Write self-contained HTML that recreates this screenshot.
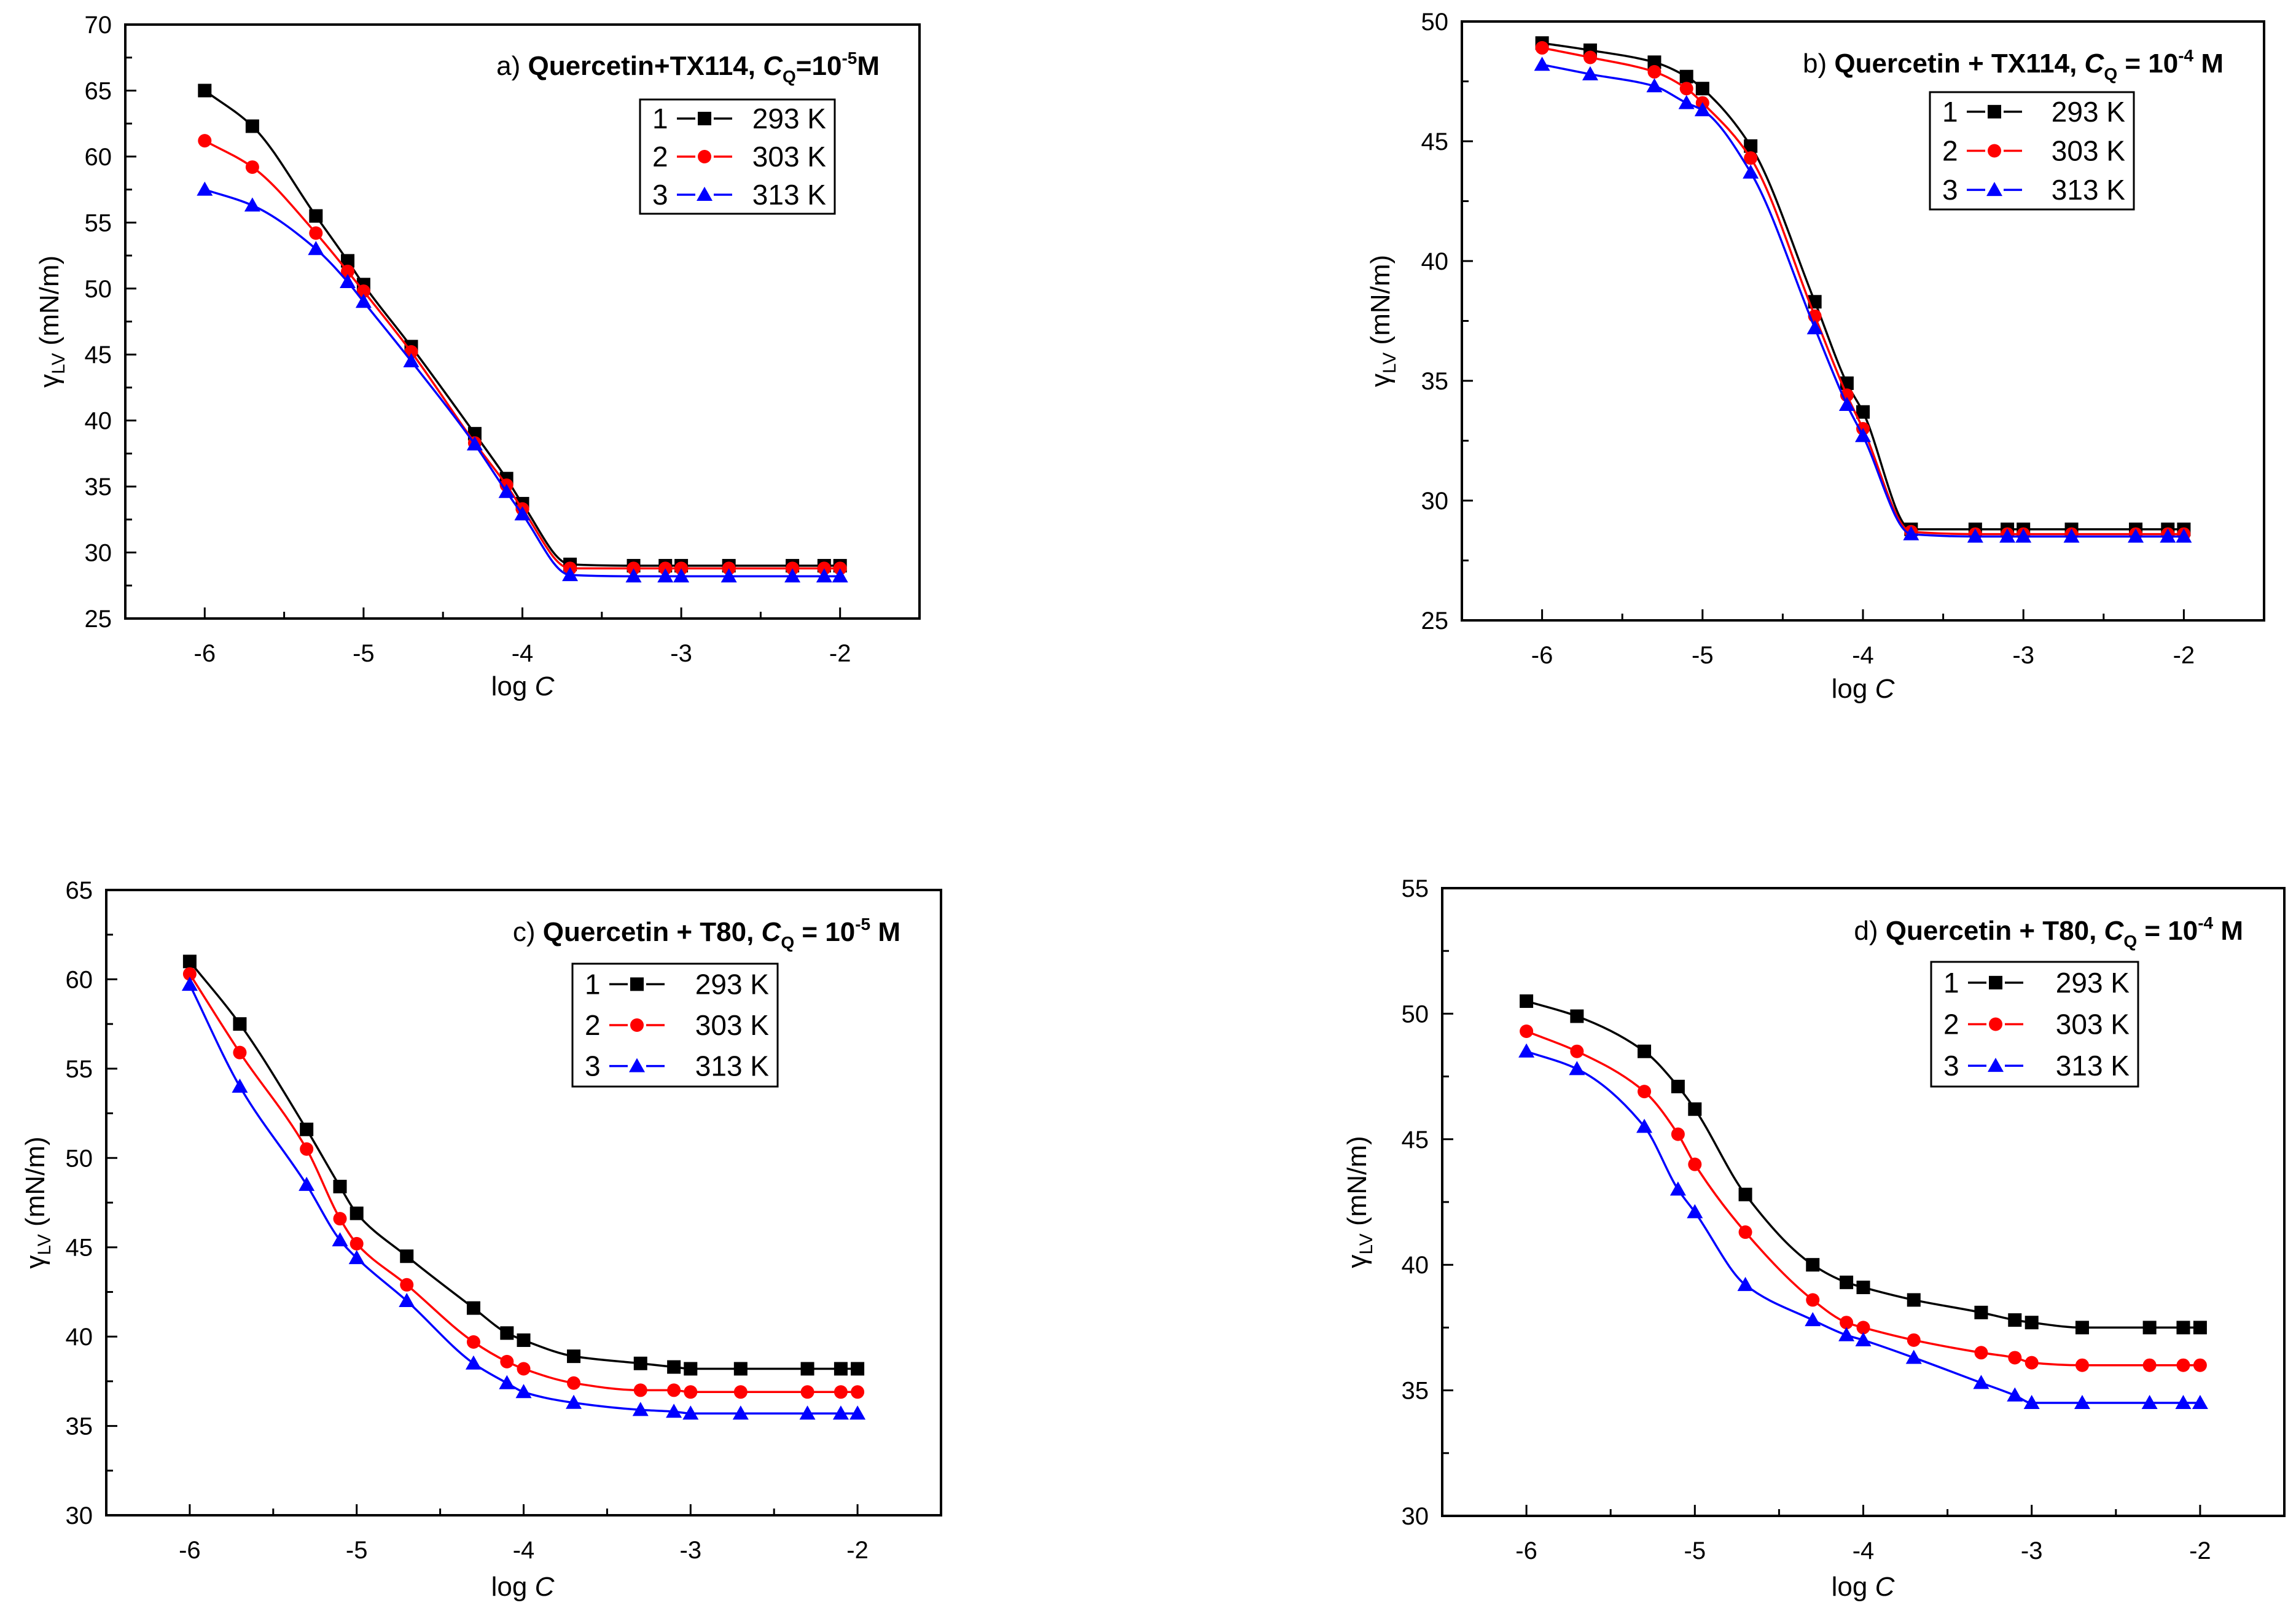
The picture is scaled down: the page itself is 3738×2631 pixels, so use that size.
<!DOCTYPE html>
<html><head><meta charset="utf-8"><style>
html,body{margin:0;padding:0;background:#fff;}
svg{display:block;font-family:"Liberation Sans",Arial,sans-serif;}
</style></head><body>
<svg id="fig" width="3738" height="2631" viewBox="0 0 3738 2631" xmlns="http://www.w3.org/2000/svg"></svg>
<script>
const logC = [-6,-5.7,-5.3,-5.1,-5,-4.7,-4.3,-4.1,-4,-3.7,-3.3,-3.1,-3,-2.7,-2.3,-2.1,-2];
const xTicks = [-6,-5,-4,-3,-2];
const seriesLabels = ["293 K","303 K","313 K"];
const aBlack = [65,62.3,55.5,52.1,50.3,45.6,39,35.6,33.7,29.1,29,29,29,29,29,29,29];
const aRed = [61.2,59.2,54.2,51.3,49.8,45.2,38.3,35.1,33.3,28.8,28.8,28.8,28.8,28.8,28.8,28.8,28.8];
const aBlue = [57.5,56.3,53,50.5,49,44.5,38.2,34.6,32.9,28.3,28.2,28.2,28.2,28.2,28.2,28.2,28.2];
const bBlack = [49.1,48.8,48.3,47.7,47.2,44.8,38.3,34.9,33.7,28.8,28.8,28.8,28.8,28.8,28.8,28.8,28.8];
const bRed = [48.9,48.5,47.9,47.2,46.6,44.3,37.7,34.4,33,28.7,28.6,28.6,28.6,28.6,28.6,28.6,28.6];
const bBlue = [48.2,47.8,47.3,46.6,46.3,43.7,37.2,34.0,32.7,28.6,28.5,28.5,28.5,28.5,28.5,28.5,28.5];
const cBlack = [61,57.5,51.6,48.4,46.9,44.5,41.6,40.2,39.8,38.9,38.5,38.3,38.2,38.2,38.2,38.2,38.2];
const cRed = [60.3,55.9,50.5,46.6,45.2,42.9,39.7,38.6,38.2,37.4,37.0,37.0,36.9,36.9,36.9,36.9,36.9];
const cBlue = [59.7,54,48.5,45.4,44.4,42,38.5,37.4,36.9,36.3,35.9,35.8,35.7,35.7,35.7,35.7,35.7];
const dBlack = [50.5,49.9,48.5,47.1,46.2,42.8,40,39.3,39.1,38.6,38.1,37.8,37.7,37.5,37.5,37.5,37.5];
const dRed = [49.3,48.5,46.9,45.2,44,41.3,38.6,37.7,37.5,37,36.5,36.3,36.1,36,36,36,36];
const dBlue = [48.5,47.8,45.5,43,42.1,39.2,37.8,37.2,37,36.3,35.3,34.8,34.5,34.5,34.5,34.5,34.5];
const aYTicks = [25,30,35,40,45,50,55,60,65,70];
const bYTicks = [25,30,35,40,45,50];
const cYTicks = [30,35,40,45,50,55,60,65];
const dYTicks = [30,35,40,45,50,55];

const NS="http://www.w3.org/2000/svg";
const svg=document.getElementById('fig');
function mk(tag,attrs,parent){const e=document.createElementNS(NS,tag);for(const k in attrs)e.setAttribute(k,attrs[k]);(parent||svg).appendChild(e);return e;}

const panels=[
 {id:'a',L:204,R:1497,T:40,B:1007,yt:aYTicks,data:[aBlack,aRed,aBlue],
  title:['a) ','Quercetin+TX114, ','C','Q','=10','-5','M'],tx:1432,ty:122,
  leg:[1042,162,317,186],ylx:95,xlx:851,xly:1132},
 {id:'b',L:2380,R:3686,T:35,B:1010,yt:bYTicks,data:[bBlack,bRed,bBlue],
  title:['b) ','Quercetin + TX114, ','C','Q',' = 10','-4',' M'],tx:3620,ty:118,
  leg:[3142,150,332,191],ylx:2262,xlx:3033,xly:1136},
 {id:'c',L:173,R:1532,T:1449,B:2467,yt:cYTicks,data:[cBlack,cRed,cBlue],
  title:['c) ','Quercetin + T80, ','C','Q',' = 10','-5',' M'],tx:1466,ty:1532,
  leg:[932,1569,334,200],ylx:72,xlx:851,xly:2598},
 {id:'d',L:2348,R:3719,T:1446,B:2468,yt:dYTicks,data:[dBlack,dRed,dBlue],
  title:['d) ','Quercetin + T80, ','C','Q',' = 10','-4',' M'],tx:3652,ty:1530,
  leg:[3144,1566,337,203],ylx:2224,xlx:3033,xly:2598}
];
const colors=['#000000','#ff0000','#0000ff'];

function marker(g,k,x,y){
  let m;
  if(k===0){m=mk('rect',{x:x-11,y:y-11,width:22,height:22,fill:colors[0]},g);}
  else if(k===1){m=mk('circle',{cx:x,cy:y,r:11,fill:colors[1]},g);}
  else {m=mk('polygon',{points:`${x},${y-13} ${x-13},${y+10} ${x+13},${y+10}`,fill:colors[2]},g);}
  return m;
}
// monotone cubic (Fritsch-Carlson)
function smoothPath(pts){
  const n=pts.length,dx=[],s=[],m=new Array(n);
  for(let i=0;i<n-1;i++){dx[i]=pts[i+1][0]-pts[i][0];s[i]=(pts[i+1][1]-pts[i][1])/dx[i];}
  m[0]=s[0];m[n-1]=s[n-2];
  for(let i=1;i<n-1;i++){
    if(s[i-1]*s[i]<=0)m[i]=0;
    else{const w1=2*dx[i]+dx[i-1],w2=dx[i]+2*dx[i-1];m[i]=(w1+w2)/(w1/s[i-1]+w2/s[i]);}
  }
  let d=`M${pts[0][0]},${pts[0][1]}`;
  for(let i=0;i<n-1;i++){
    const h=dx[i]/3;
    d+=` C${pts[i][0]+h},${pts[i][1]+m[i]*h} ${pts[i+1][0]-h},${pts[i+1][1]-m[i+1]*h} ${pts[i+1][0]},${pts[i+1][1]}`;
  }
  return d;
}

panels.forEach(p=>{
  const g=mk('g',{});
  
  
  const ymin=p.yt[0],ymax=p.yt[p.yt.length-1];
  const sx=v=>p.L+(v+6.5)/5*(p.R-p.L);
  const sy=v=>p.B-(v-ymin)/(ymax-ymin)*(p.B-p.T);
  const frame=mk('rect',{x:p.L,y:p.T,width:p.R-p.L,height:p.B-p.T,fill:'none',stroke:'#000','stroke-width':4},g);
  
  
  for(let v=-6.5;v<=-1.5+1e-9;v+=0.5){
    const major=Math.abs(v-Math.round(v))<1e-9;
    const t=mk('line',{x1:sx(v),x2:sx(v),y1:p.B,y2:p.B-(major?18:11),stroke:'#000','stroke-width':3},g);
    
    
  }
  xTicks.forEach(v=>{
    const t=mk('text',{x:sx(v),y:p.B+70,'font-size':40,'text-anchor':'middle'},g);
    t.textContent=String(v);
    
    
  });
  for(let v=ymin;v<=ymax+1e-9;v+=2.5){
    const major=Math.abs(v%5)<1e-9;
    const t=mk('line',{x1:p.L,x2:p.L+(major?18:11),y1:sy(v),y2:sy(v),stroke:'#000','stroke-width':3},g);
    
    
  }
  p.yt.forEach(v=>{
    const t=mk('text',{x:p.L-22,y:sy(v)+14,'font-size':40,'text-anchor':'end'},g);
    t.textContent=v;
    
    
  });
  const yl=mk('text',{transform:`translate(${p.ylx},${(p.T+p.B)/2}) rotate(-90)`,'font-size':44,'text-anchor':'middle'},g);
  yl.innerHTML='γ<tspan font-size="30" dy="10">LV</tspan><tspan dy="-10"> (mN/m)</tspan>';
  
  
  const xl=mk('text',{x:p.xlx,y:p.xly,'font-size':44,'text-anchor':'middle'},g);
  xl.innerHTML='log <tspan font-style="italic">C</tspan>';
  
  
  const tt=mk('text',{x:p.tx,y:p.ty,'font-size':44,'text-anchor':'end','font-weight':'bold'},g);
  const tl=p.title;
  tt.innerHTML=`<tspan font-weight="normal">${tl[0]}</tspan>${tl[1]}<tspan font-style="italic">${tl[2]}</tspan><tspan font-size="28" dy="12">${tl[3]}</tspan><tspan dy="-12">${tl[4]}</tspan><tspan font-size="28" dy="-18">${tl[5]}</tspan><tspan dy="18">${tl[6]}</tspan>`;
  
  
  p.data.forEach((vals,k)=>{
    const sg=mk('g',{},g);
    
    
    const pts=logC.map((x,i)=>[sx(x),sy(vals[i])]);
    const path=mk('path',{d:smoothPath(pts),fill:'none',stroke:colors[k],'stroke-width':3.5},sg);
    
    
    pts.forEach(pt=>{
      const m=marker(sg,k,pt[0],pt[1]);
      
      
    });
  });
  const [lx,ly,lw,lh]=p.leg;
  const lg=mk('g',{},g);
  
  
  mk('rect',{x:lx,y:ly,width:lw,height:lh,fill:'#fff',stroke:'#000','stroke-width':3},lg);
  seriesLabels.forEach((s,k)=>{
    const cy=ly+lh*(k+0.5)/3;
    const e=mk('g',{},lg);
    
    
    const n=mk('text',{x:lx+20,y:cy+16,'font-size':46},e);n.textContent=String(k+1);
    mk('line',{x1:lx+60,x2:lx+90,y1:cy,y2:cy,stroke:colors[k],'stroke-width':3.5},e);
    mk('line',{x1:lx+120,x2:lx+150,y1:cy,y2:cy,stroke:colors[k],'stroke-width':3.5},e);
    marker(e,k,lx+105,cy);
    const t=mk('text',{x:lx+lw-14,y:cy+16,'font-size':46,'text-anchor':'end'},e);t.textContent=s;
  });
});
</script>
</body></html>
